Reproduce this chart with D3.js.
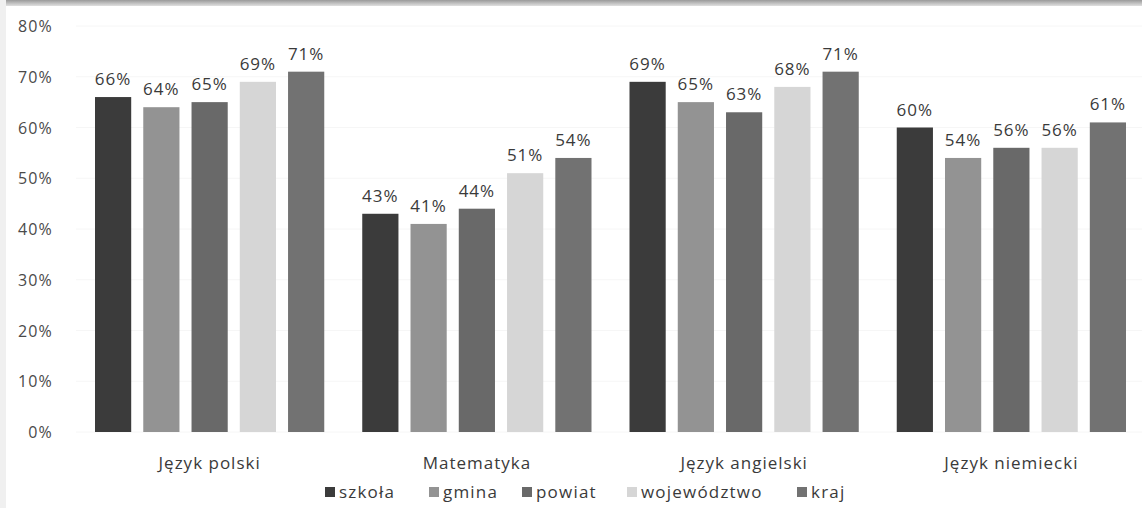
<!DOCTYPE html>
<html><head><meta charset="utf-8">
<script src="https://cdn.jsdelivr.net/npm/d3@7"></script>
<style>body{margin:0;background:#fff}svg{display:block}</style>
</head><body><svg id="c" width="1142" height="508"></svg>
<script>
const categories = ["Język polski", "Matematyka", "Język angielski", "Język niemiecki"];
const seriesNames = ["szkoła", "gmina", "powiat", "województwo", "kraj"];
const szkola = [66, 43, 69, 60];
const gmina = [64, 41, 65, 54];
const powiat = [65, 44, 63, 56];
const wojewodztwo = [69, 51, 68, 56];
const kraj = [71, 54, 71, 61];
const yTicks = [0, 10, 20, 30, 40, 50, 60, 70, 80];
const colors = ["#3b3b3b", "#939393", "#696969", "#d6d6d6", "#727272"];

(function(){
const series = [szkola, gmina, powiat, wojewodztwo, kraj];
const svg = d3.select("#c");
const font = "'Open Sans', sans-serif";
const txt = "#3a3a3a";

const grad = svg.append("defs").append("linearGradient").attr("id","g").attr("x1",0).attr("y1",0).attr("x2",0).attr("y2",1);
grad.append("stop").attr("offset","0").attr("stop-color","#9a9a9a");
grad.append("stop").attr("offset","1").attr("stop-color","#e0e0e0");
svg.append("rect").attr("x",0).attr("y",0).attr("width",1142).attr("height",6).attr("fill","url(#g)");
svg.append("rect").attr("x",0).attr("y",0).attr("width",6).attr("height",508).attr("fill","#f0f0f0");

const pLeft = 76, pRight = 1145, pTop = 26, pBottom = 432;
const x0 = d3.scaleBand().domain(categories).range([pLeft, pRight]).paddingInner(0).paddingOuter(0);
const x1 = d3.scaleBand().domain(seriesNames).range([19, x0.bandwidth() - 19]).paddingInner(0.25).paddingOuter(0);
const y = d3.scaleLinear().domain([0, 80]).range([pBottom, pTop]);

svg.append("g").selectAll("line").data(yTicks).join("line")
  .attr("x1", pLeft).attr("x2", pRight).attr("y1", d => y(d)).attr("y2", d => y(d))
  .attr("stroke", "#f6f6f6").attr("stroke-width", 1);

const yAxis = d3.axisLeft(y).tickValues(yTicks).tickFormat(d => d + "%").tickSize(0).tickPadding(0);
const ya = svg.append("g").attr("transform", "translate(53,0)").call(yAxis);
ya.select(".domain").remove();
ya.selectAll("text").attr("font-family", font).attr("font-size", 16).attr("fill", "#4a4a4a")
  .attr("letter-spacing", 1.2).attr("dy","0.35em");

const groups = svg.append("g").selectAll("g").data(categories).join("g")
  .attr("transform", d => `translate(${x0(d)},0)`);
groups.each(function(cat, ci) {
  const g = d3.select(this);
  const data = seriesNames.map((s, si) => ({s, si, v: series[si][ci]}));
  g.selectAll("rect").data(data).join("rect")
    .attr("x", d => x1(d.s)).attr("width", x1.bandwidth())
    .attr("y", d => y(d.v)).attr("height", d => y(0) - y(d.v))
    .attr("fill", d => colors[d.si]);
  g.selectAll("text").data(data).join("text")
    .attr("x", d => x1(d.s) + x1.bandwidth() / 2).attr("y", d => y(d.v) - 12)
    .attr("text-anchor", "middle").attr("font-family", font).attr("font-size", 17)
    .attr("letter-spacing", 1).attr("fill", txt).text(d => d.v + "%");
});

const xAxis = d3.axisBottom(x0).tickSize(0).tickPadding(0);
const xa = svg.append("g").attr("transform", `translate(0,${pBottom + 31})`).call(xAxis);
xa.select(".domain").remove();
xa.selectAll("text").attr("font-family", font).attr("font-size", 17).attr("fill", txt)
  .attr("letter-spacing", 1).attr("dy","0.35em");

const legendX = [325, 429, 522, 627, 797];
const lg = svg.append("g").selectAll("g").data(seriesNames).join("g")
  .attr("transform", (d, i) => `translate(${legendX[i]},492)`);
lg.append("rect").attr("x", 0).attr("y", -5).attr("width", 10).attr("height", 10).attr("fill", (d, i) => colors[i]);
lg.append("text").attr("x", 14).attr("y", 0).attr("dy", "0.35em")
  .attr("font-family", font).attr("font-size", 17).attr("fill", txt).attr("letter-spacing", 1.2).text(d => d);
})();
</script>
</body></html>
